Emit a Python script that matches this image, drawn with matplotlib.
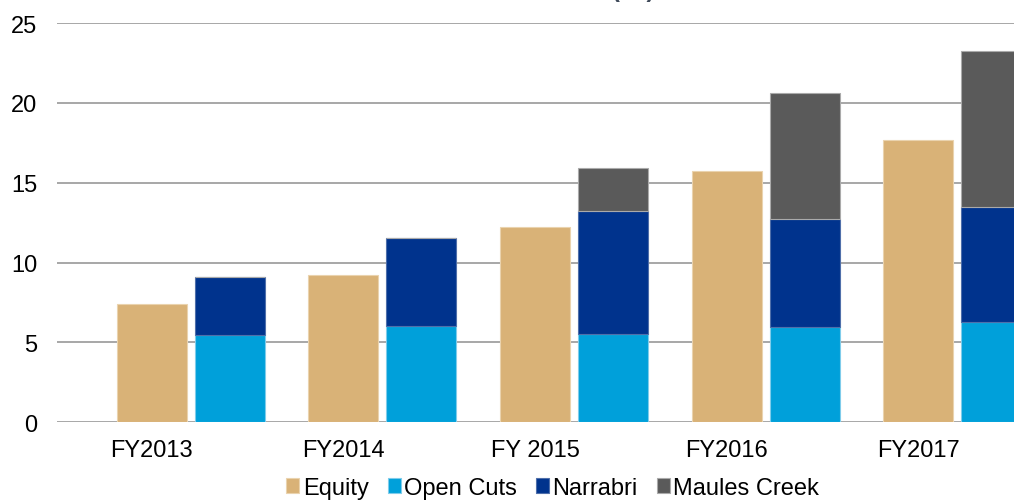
import numpy as np
import matplotlib
matplotlib.use("Agg")
import matplotlib.pyplot as plt

plt.rcParams['font.family'] = ['Liberation Sans', 'DejaVu Sans']

years = ['FY2013', 'FY2014', 'FY 2015', 'FY2016', 'FY2017']
equity = [7.4, 9.25, 12.25, 15.75, 17.7]
open_cuts = [5.45, 6.0, 5.55, 5.95, 6.25]
narrabri = [3.65, 5.55, 7.7, 6.8, 7.25]
maules_creek = [0.0, 0.0, 2.7, 7.85, 9.75]

c_eq = '#D9B277'
c_oc = '#00A0DA'
c_na = '#00338D'
c_mc = '#5A5A5A'

fig = plt.figure(figsize=(10.14, 5.02), dpi=100)
ax = fig.add_axes([0.056, 0.157, 0.944, 0.795])

x = np.arange(len(years))
w = 0.365
d = 0.407

ax.bar(x, equity, w, color=c_eq, edgecolor='#EAD3AE', linewidth=0.8, label='Equity', zorder=3)
ax.bar(x + d, open_cuts, w, color=c_oc, edgecolor='#7FCCEB', linewidth=0.8, label='Open Cuts', zorder=3)
bot = np.array(open_cuts)
ax.bar(x + d, narrabri, w, bottom=bot, color=c_na, edgecolor='#4F6FAA', linewidth=0.8, label='Narrabri', zorder=3)
bot = bot + np.array(narrabri)
ax.bar(x + d, maules_creek, w, bottom=bot, color=c_mc, edgecolor='#AAAAAA', linewidth=0.8, label='Maules Creek', zorder=3)

ax.set_xlim(-0.496, 4.50)
ax.set_ylim(0, 25)
ax.set_yticks([0, 5, 10, 15, 20, 25])
ax.set_xticks(x)
ax.set_xticklabels(years)
ax.yaxis.grid(True, color='#A0A0A0', linewidth=1.3, zorder=0)
ax.set_axisbelow(True)
for s in ax.spines.values():
    s.set_visible(False)
ax.tick_params(axis='both', length=0, labelsize=17, colors='#000000')
ax.tick_params(axis='y', pad=14)
ax.tick_params(axis='x', pad=12)

fig.legend(*ax.get_legend_handles_labels(), loc='center', bbox_to_anchor=(0.545, 0.026),
           ncol=4, frameon=False, fontsize=17, handlelength=0.55, handleheight=0.55,
           handletextpad=0.15, columnspacing=0.8, borderpad=0)

# title is cut off at the top of the image
fig.text(0.625, 0.996, '(Mt)', ha='center', va='bottom', fontsize=17,
         fontweight='bold', color='#3F4A5A')

fig.savefig('out.png', dpi=100)
